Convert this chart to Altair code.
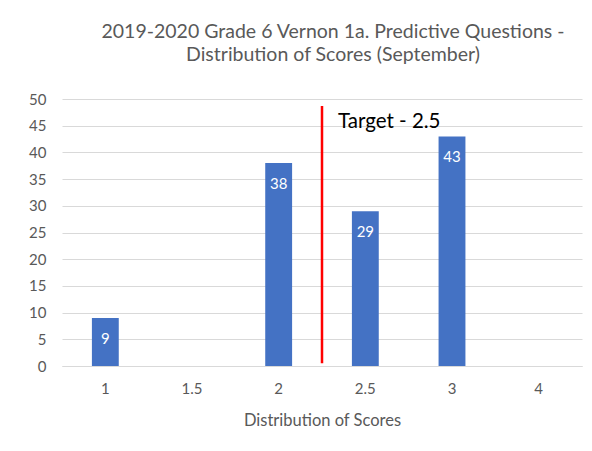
import altair as alt
import pandas as pd

categories = ["1", "1.5", "2", "2.5", "3", "4"]
counts = [9, 0, 38, 29, 43, 0]
labels = ["9", "", "38", "29", "43", ""]

target_category = ["2.5"]
target_top = [48.7]
target_bottom = [0.5]
target_label = ["Target - 2.5"]
target_label_y = [45.7]

y_ticks = [0, 5, 10, 15, 20, 25, 30, 35, 40, 45, 50]

df = pd.DataFrame({"cat": categories, "count": counts, "label": labels})
tdf = pd.DataFrame({"cat": target_category, "top": target_top, "bottom": target_bottom,
                    "text": target_label, "ty": target_label_y})

FONT = "Lato"
GREY = "#595959"

xscale = alt.Scale(domain=categories, paddingInner=0, paddingOuter=0)
yscale = alt.Scale(domain=[0, 50])

xaxis = alt.Axis(title="Distribution of Scores", labelAngle=0, ticks=False,
                 domainColor="#d9d9d9", labelPadding=15, titlePadding=16,
                 labelFontSize=15, titleFontSize=16.5, labelColor=GREY, titleColor=GREY,
                 labelFont=FONT, titleFont=FONT, titleFontWeight="normal")
yaxis = alt.Axis(title=None, values=y_ticks, domain=False, ticks=False,
                 labelOverlap=False, gridColor="#d9d9d9", labelPadding=16,
                 labelFontSize=15, labelColor=GREY, labelFont=FONT)

bars = alt.Chart(df).mark_bar(width=alt.RelativeBandSize(0.31), color="#4472C4").encode(
    x=alt.X("cat:N", scale=xscale, sort=categories, axis=xaxis),
    y=alt.Y("count:Q", scale=yscale, axis=yaxis))

bar_text = alt.Chart(df).mark_text(color="white", baseline="middle", dy=21, fontSize=15,
                                   font=FONT).encode(
    x=alt.X("cat:N", scale=xscale, sort=categories, axis=xaxis),
    y=alt.Y("count:Q", scale=yscale, axis=yaxis),
    text="label:N")

rule = alt.Chart(tdf).mark_rule(color="#ff0000", strokeWidth=2.5).encode(
    x=alt.X("cat:N", scale=xscale, bandPosition=0, axis=xaxis),
    y=alt.Y("top:Q", scale=yscale, axis=yaxis),
    y2="bottom:Q")

ttext = alt.Chart(tdf).mark_text(color="black", align="left", baseline="middle", dx=16,
                                 fontSize=20.5, font=FONT).encode(
    x=alt.X("cat:N", scale=xscale, bandPosition=0, axis=xaxis),
    y=alt.Y("ty:Q", scale=yscale, axis=yaxis),
    text="text:N")

chart = alt.layer(bars, bar_text, rule, ttext).properties(
    width=520, height=267,
    background="white",
    title=alt.Title(["2019-2020 Grade 6  Vernon 1a. Predictive Questions -",
                     "Distribution of Scores (September)"],
                    anchor="middle", dx=11, offset=27, fontSize=19.5, font=FONT,
                    fontWeight="normal", color=GREY, lineHeight=23),
    autosize=alt.AutoSizeParams(type="none"),
    padding={"left": 54, "top": 91, "right": 2, "bottom": 70},
).configure_view(stroke=None)

chart.save("out.html", embed_options={"renderer": "svg", "actions": False})
